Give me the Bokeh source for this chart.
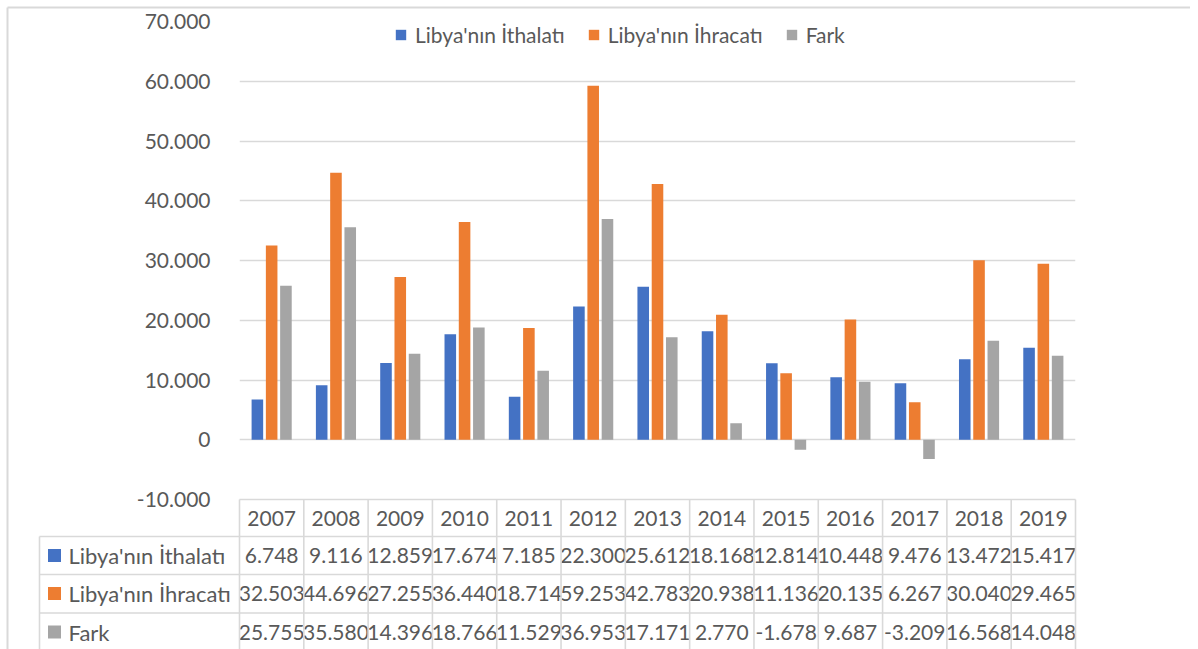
import numpy as np
from bokeh.plotting import figure
from bokeh.models import Range1d, FixedTicker, ColumnDataSource
from bokeh.transform import dodge
from bokeh.core.properties import value
from bokeh.embed import file_html
from bokeh.resources import INLINE

# ---------------- data ----------------
years = ["2007", "2008", "2009", "2010", "2011", "2012", "2013",
         "2014", "2015", "2016", "2017", "2018", "2019"]
ithalat = [6748, 9116, 12859, 17674, 7185, 22300, 25612, 18168, 12814, 10448, 9476, 13472, 15417]
ihracat = [32503, 44696, 27255, 36440, 18714, 59253, 42783, 20938, 11136, 20135, 6267, 30040, 29465]
fark = [25755, 35580, 14396, 18766, 11529, 36953, 17171, 2770, -1678, 9687, -3209, 16568, 14048]
series_names = ["Libya'nın İthalatı", "Libya'nın İhracatı", "Fark"]
series_colors = ["#4472C4", "#ED7D31", "#A5A5A5"]
y_ticks = [-10000, 0, 10000, 20000, 30000, 40000, 50000, 60000, 70000]


def fmt(v):
    return f"{v:,}".replace(",", ".")


# ---------------- layout constants (pixels) ----------------
FRAME_W, FRAME_H = 836, 478
LEFT, RIGHT, TOP, BOTTOM = 239, 115, 21, 150
N = len(years)
COLW = FRAME_W / N
FONT = "Lato"
FS = "21px"
TXT = "#595959"
LINE = "#d9d9d9"


def px(x):
    return x / COLW


p = figure(width=LEFT + FRAME_W + RIGHT, height=TOP + FRAME_H + BOTTOM,
           frame_width=FRAME_W, frame_height=FRAME_H,
           min_border_left=LEFT, min_border_right=RIGHT,
           min_border_top=TOP, min_border_bottom=BOTTOM,
           x_range=Range1d(0, N), y_range=Range1d(y_ticks[0], y_ticks[-1]),
           output_backend="svg", toolbar_location=None)
p.extra_y_ranges = {"tbl": Range1d(0, -FRAME_H)}
p.outline_line_color = None
p.background_fill_color = "white"
p.border_fill_color = "white"

# axes / grid
p.xaxis.visible = False
p.xgrid.visible = False
p.yaxis.ticker = FixedTicker(ticks=y_ticks)
p.yaxis.major_label_overrides = {t: fmt(t) for t in y_ticks}
p.yaxis.axis_line_color = None
p.yaxis.major_tick_line_color = None
p.yaxis.minor_tick_line_color = None
p.yaxis.major_label_standoff = 23
p.yaxis.major_label_text_font = FONT
p.yaxis.major_label_text_font_size = FS
p.yaxis.major_label_text_color = TXT
p.ygrid.ticker = FixedTicker(ticks=y_ticks)
p.ygrid.grid_line_color = LINE
p.ygrid.grid_line_width = 1.6

# bars
xs = np.arange(N) + 0.5
src = ColumnDataSource(dict(x=xs, ith=ithalat, ihr=ihracat, fark=fark))
offsets = [-0.222, 0.0, 0.222]
for key, name, color, off in zip(["ith", "ihr", "fark"], series_names, series_colors, offsets):
    p.vbar(x=dodge("x", off), top=key, bottom=0, width=0.18, source=src,
           fill_color=color, line_color=None, legend_label=name)

leg = p.legend[0]
leg.orientation = "horizontal"
leg.location = (155, FRAME_H - 26)
leg.padding = 0
leg.margin = 0
leg.spacing = 22
leg.label_standoff = 8
leg.glyph_width = 13
leg.glyph_height = 13
leg.label_text_font = FONT
leg.label_text_font_size = FS
leg.label_text_color = TXT
leg.border_line_alpha = 0
leg.background_fill_alpha = 0

# ---------------- data table below chart ----------------
header_mid = 18.5
row_mids = [56, 94, 132.5]
row_lines = [37, 75, 113.5]
label_left = px(-200)
tbl_bottom = 170
SQ = 13

p.text(x=xs, y=[header_mid] * N, text=years, y_range_name="tbl", level="overlay",
       text_font=value(FONT), text_font_size=FS, text_color=TXT,
       text_align="center", text_baseline="middle")

for vals, name, color, ym in zip([ithalat, ihracat, fark], series_names, series_colors, row_mids):
    p.text(x=xs, y=[ym] * N, text=[fmt(v) for v in vals], y_range_name="tbl", level="overlay",
           text_font=value(FONT), text_font_size=FS, text_color=TXT,
           text_align="center", text_baseline="middle")
    # legend key square drawn as a thick butt-capped segment
    p.segment(x0=[px(-185 - SQ / 2)], y0=[ym], x1=[px(-185 + SQ / 2)], y1=[ym],
              line_width=SQ, line_color=color, line_cap="butt",
              y_range_name="tbl", level="overlay")
    p.text(x=[px(-171)], y=[ym], text=[name], y_range_name="tbl", level="overlay",
           text_font=value(FONT), text_font_size="22px", text_color=TXT,
           text_align="left", text_baseline="middle")

# table grid lines
hx0 = [0] + [label_left] * len(row_lines)
hy = [0] + row_lines
p.segment(x0=hx0, y0=hy, x1=[N] * len(hy), y1=hy, y_range_name="tbl", level="overlay",
          line_color=LINE, line_width=1.6)
vx = list(range(N + 1)) + [label_left]
vy0 = [0] * (N + 1) + [row_lines[0]]
p.segment(x0=vx, y0=vy0, x1=vx, y1=[tbl_bottom] * len(vx), y_range_name="tbl", level="overlay",
          line_color=LINE, line_width=1.6)

# outer chart border (top and left edges)
bx = px(-232)
by = -(FRAME_H + 14)
p.segment(x0=[bx, bx], y0=[by, by], x1=[px(FRAME_W + RIGHT + 5), bx], y1=[by, tbl_bottom],
          y_range_name="tbl", level="overlay", line_color=LINE, line_width=2)

open("out.html", "w").write(file_html(p, INLINE))
